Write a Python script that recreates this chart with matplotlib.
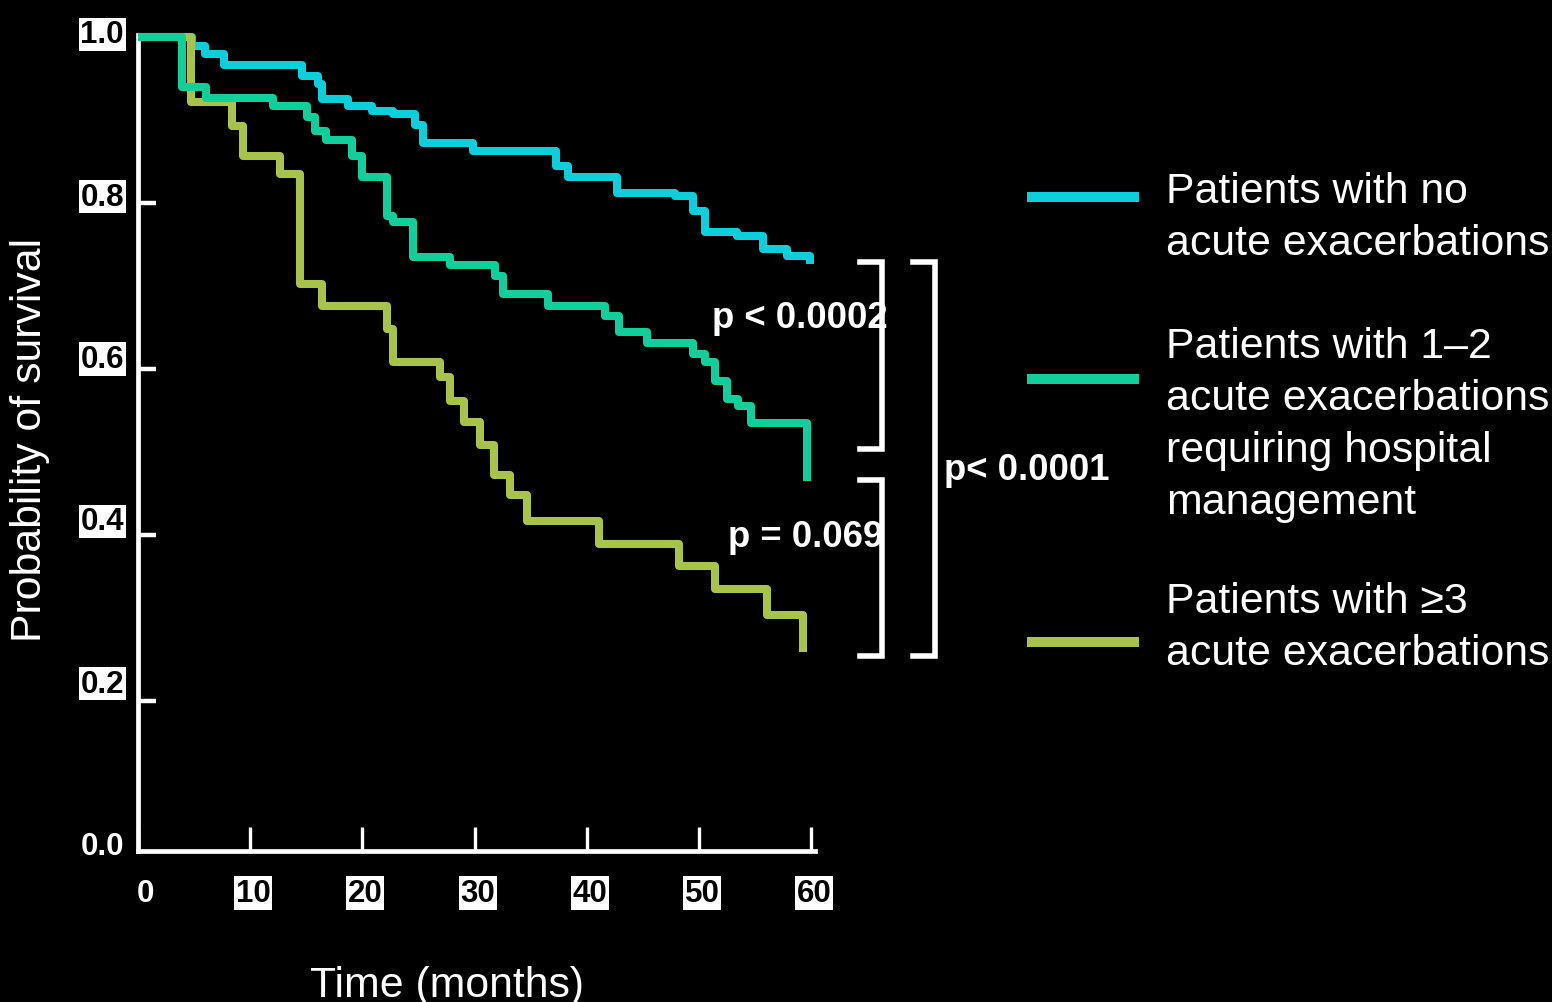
import matplotlib
matplotlib.use("Agg")
import matplotlib.pyplot as plt
from matplotlib import transforms
from matplotlib.lines import Line2D

plt.rcParams["font.family"] = ["Liberation Sans", "DejaVu Sans"]

# Kaplan-Meier steps (months, survival)
t_none = [0, 4.8, 6.0, 7.7, 14.6, 16.0, 16.4, 18.7, 20.9, 22.7, 24.7, 25.4,
          29.9, 37.3, 38.3, 42.7, 47.9, 49.5, 50.5, 53.4, 55.7, 57.8, 59.9]
s_none = [1.0, 0.989, 0.980, 0.966, 0.953, 0.943, 0.925, 0.917, 0.911, 0.907,
          0.894, 0.872, 0.863, 0.845, 0.831, 0.812, 0.808, 0.790, 0.765,
          0.760, 0.745, 0.736, 0.727]

t_mid = [0, 3.9, 6.1, 12.0, 15.1, 15.8, 16.8, 19.1, 20.0, 22.2, 22.7, 24.5,
         27.8, 31.8, 32.5, 36.5, 41.6, 42.9, 45.4, 49.5, 50.5, 51.4, 52.5,
         53.5, 54.6, 59.6]
s_mid = [1.0, 0.940, 0.927, 0.917, 0.904, 0.887, 0.876, 0.857, 0.831, 0.784,
         0.777, 0.735, 0.725, 0.712, 0.690, 0.676, 0.664, 0.645, 0.631,
         0.618, 0.608, 0.586, 0.564, 0.555, 0.535, 0.465]

t_high = [0, 4.7, 8.4, 9.4, 12.7, 14.4, 16.4, 22.2, 22.7, 26.9, 27.8, 29.1,
          30.5, 31.7, 33.2, 34.7, 41.1, 48.2, 51.4, 56.1, 59.3]
s_high = [1.0, 0.922, 0.893, 0.857, 0.835, 0.702, 0.676, 0.648, 0.608, 0.590,
          0.561, 0.536, 0.508, 0.472, 0.448, 0.417, 0.389, 0.363, 0.335,
          0.304, 0.259]

labels = [
    "Patients with no\nacute exacerbations",
    "Patients with 1\u20132\nacute exacerbations\nrequiring hospital\nmanagement",
    "Patients with \u22653\nacute exacerbations",
]
colours = ["#0CCFDB", "#10CF9B", "#A7C34A"]

x_ticks = [0, 10, 20, 30, 40, 50, 60]
y_ticks = [1.0, 0.8, 0.6, 0.4, 0.2, 0.0]

# pairwise log-rank comparisons: (text, bracket bottom, bracket top)
p_texts = ["p < 0.0002", "p = 0.069", "p< 0.0001"]
br_lo = [0.504, 0.254, 0.254]
br_hi = [0.729, 0.466, 0.729]

W, H = 1552, 1003
fig = plt.figure(figsize=(W / 100, H / 100), dpi=100, facecolor="black")


def fx(p):
    return p / W


def fy(p):
    return 1 - p / H


ax = fig.add_axes([fx(138), fy(852), (815 - 138) / W, (852 - 35.5) / H])
ax.set_facecolor("black")
ax.set_xlim(0, 60.34)
ax.set_ylim(0.0193, 1.003)

for t, s, c, z in [(t_none, s_none, colours[0], 3),
                   (t_high, s_high, colours[2], 4),
                   (t_mid, s_mid, colours[1], 5)]:
    ax.step(t, s, where="post", color=c, lw=5.8, zorder=z, clip_on=False,
            solid_joinstyle="round", solid_capstyle="butt")

for s in ("top", "right"):
    ax.spines[s].set_visible(False)
for s in ("left", "bottom"):
    ax.spines[s].set_color("white")
    ax.spines[s].set_linewidth(3.4)

ax.set_xticks(x_ticks)
ax.set_yticks([v for v in y_ticks if v > 0])
ax.tick_params(axis="x", direction="in", length=17, width=2.4, color="white",
               labelbottom=False)
ax.tick_params(axis="y", direction="in", length=13, width=3.2, color="white",
               labelleft=False)

# tick labels: white boxes with black bold digits (except the origin ones)
tick_font = dict(fontsize=22.5, fontweight="bold", va="center")
ytr = transforms.offset_copy(ax.get_yaxis_transform(), fig, x=-14, y=-4,
                             units="dots")
for v in y_ticks:
    ly = 0.03 + 0.978 * v
    if v > 0:
        ax.text(0, ly, f"{v:.1f}", transform=ytr, ha="right", color="black",
                bbox=dict(boxstyle="square,pad=0.05", fc="white", ec="none"),
                **tick_font)
    else:
        ax.text(0, ly, f"{v:.1f}", transform=ytr, ha="right", color="white",
                **tick_font)

for v in x_ticks:
    dx = 7 if v == 0 else 3
    xtr = transforms.offset_copy(ax.get_xaxis_transform(), fig, x=dx, y=-42,
                                 units="dots")
    if v > 0:
        ax.text(v, 0, str(v), transform=xtr, ha="center", color="black",
                bbox=dict(boxstyle="square,pad=0.05", fc="white", ec="none"),
                **tick_font)
    else:
        ax.text(v, 0, str(v), transform=xtr, ha="center", color="white",
                **tick_font)

fig.text(fx(30), fy(440), "Probability of survival", rotation=90,
         ha="center", va="center", color="white", fontsize=30.8)
fig.text(fx(447), fy(997), "Time (months)", ha="center", va="baseline",
         color="white", fontsize=30.8)

# brackets for the log-rank comparisons
br_x = [(64.35, 66.3), (64.35, 66.3), (69.07, 71.03)]
for (x0, x1), lo, hi in zip(br_x, br_lo, br_hi):
    ax.plot([x0, x1, x1, x0], [hi, hi, lo, lo], color="white", lw=4,
            clip_on=False, solid_joinstyle="miter", zorder=6)

p_pos = [(712, 328), (728, 547), (944, 480)]
for txt, (px, py) in zip(p_texts, p_pos):
    fig.text(fx(px), fy(py), txt, ha="left", va="baseline", color="white",
             fontsize=26.3, fontweight="bold", zorder=7)

# legend, built by hand so the text blocks sit where they do in the source
leg_y = [198, 380, 643]
txt_base = [203, 358, 613]
for lab, c, ly, tb in zip(labels, colours, leg_y, txt_base):
    fig.add_artist(Line2D([fx(1027), fx(1139)], [fy(ly), fy(ly)], color=c,
                          lw=7.2, solid_capstyle="butt",
                          transform=fig.transFigure))
    for i, line in enumerate(lab.split("\n")):
        fig.text(fx(1166), fy(tb + i * 52), line, ha="left", va="baseline",
                 color="white", fontsize=30.8)

fig.savefig("out.png", dpi=100, facecolor="black")
